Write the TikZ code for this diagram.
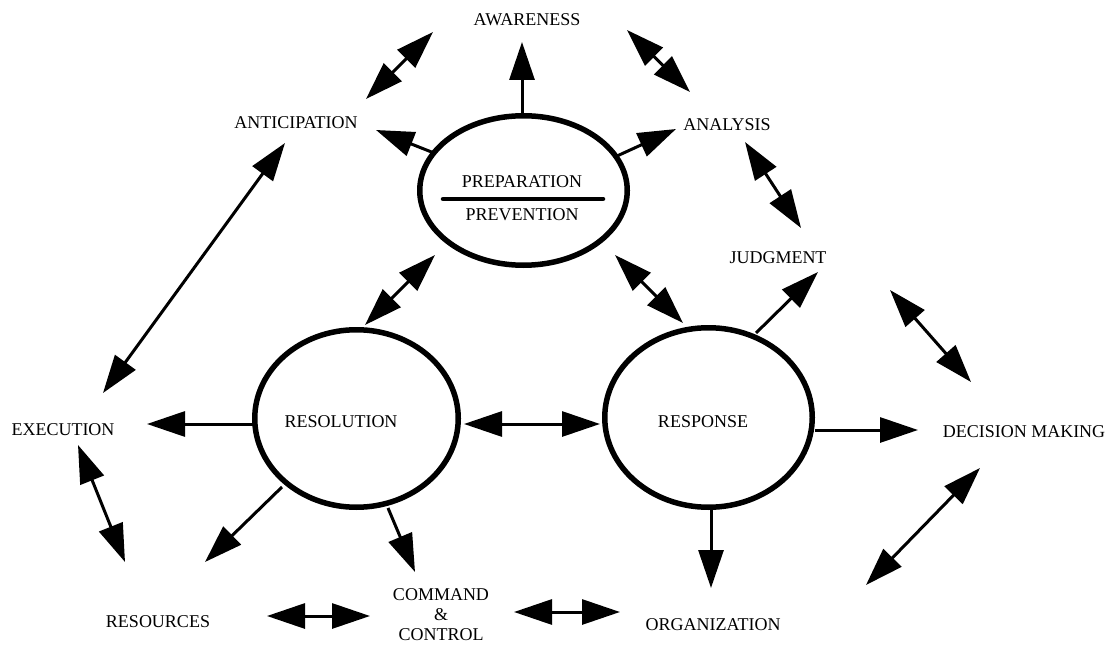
\documentclass[tikz,border=0pt]{standalone}
\usepackage{fontspec}
\setmainfont{Liberation Serif}
\usetikzlibrary{arrows.meta,shapes.geometric}
\begin{document}
\begin{tikzpicture}[x=1pt,y=-1pt,
  lbl/.style={font=\fontsize{18}{20}\selectfont, inner sep=1pt},
  bigcirc/.style={draw, ellipse, line width=5.5pt, inner sep=0pt},
  one/.style={line width=3pt, -{Triangle[length=38pt,width=25pt]}},
  two/.style={line width=3pt, {Triangle[length=38pt,width=25pt]}-{Triangle[length=38pt,width=25pt]}}]
\useasboundingbox (0,0) rectangle (1113,652);
% circles
\node[bigcirc, minimum width=207.5pt, minimum height=149.5pt] (prep) at (523.5,190.5) {};
\node[bigcirc, minimum width=203.5pt, minimum height=177.5pt] (reso) at (356.5,418.5) {};
\node[bigcirc, minimum width=207.5pt, minimum height=179.5pt] (resp) at (708.5,417.5) {};
\node[lbl] (prept) at (522,182) {PREPARATION};
\node[lbl] (prevt) at (522,215) {PREVENTION};
\coordinate (barL) at (443,199);
\coordinate (barR) at (603,199);
\draw[line width=4.5pt, line cap=round] (barL) -- (barR);
\node[lbl] (resot) at (341,422) {RESOLUTION};
\node[lbl] (respt) at (703,422) {RESPONSE};
% labels
\node[lbl] (aware) at (527,20) {AWARENESS};
\node[lbl] (antic) at (296,123) {ANTICIPATION};
\node[lbl] (analy) at (727,125) {ANALYSIS};
\node[lbl] (judg) at (778,258) {JUDGMENT};
\node[lbl] (exec) at (63,430) {EXECUTION};
\node[lbl] (dec) at (1024,432) {DECISION MAKING};
\node[lbl, align=center] (cc) at (441,615) {COMMAND\\\&\\CONTROL};
\node[lbl] (resour) at (158,622) {RESOURCES};
\node[lbl] (org) at (713,625) {ORGANIZATION};
% start / tip coordinates
\coordinate (sAware) at (522,113);
\coordinate (tAware) at (522,42);
\coordinate (sAntic) at (434,153);
\coordinate (tAntic) at (376,130);
\coordinate (sAnaly) at (617,156);
\coordinate (tAnaly) at (676,129);
\coordinate (aa1) at (366,99);
\coordinate (aa2) at (433,32);
\coordinate (an1) at (627,30);
\coordinate (an2) at (690,92);
\coordinate (aj1) at (745,142);
\coordinate (aj2) at (801,228);
\coordinate (pr1) at (435,255);
\coordinate (pr2) at (365,325);
\coordinate (pq1) at (615,255);
\coordinate (pq2) at (683,323);
\coordinate (sJudg) at (756,333);
\coordinate (tJudg) at (818,272);
\coordinate (jd1) at (890,290);
\coordinate (jd2) at (971,382);
\coordinate (ae1) at (285,143);
\coordinate (ae2) at (103,393);
\coordinate (sExec) at (253,424);
\coordinate (tExec) at (147,424);
\coordinate (er1) at (78,445);
\coordinate (er2) at (125,562);
\coordinate (sRes) at (282,487);
\coordinate (tRes) at (205,562);
\coordinate (sCC) at (388,508);
\coordinate (tCC) at (415,572);
\coordinate (rc1) at (267,616);
\coordinate (rc2) at (370,616);
\coordinate (rr1) at (464,424);
\coordinate (rr2) at (600,424);
\coordinate (co1) at (514,612);
\coordinate (co2) at (620,612);
\coordinate (sOrg) at (711,508);
\coordinate (tOrg) at (711,588);
\coordinate (sDec) at (815,430);
\coordinate (tDec) at (918,430);
\coordinate (od1) at (866,585);
\coordinate (od2) at (980,468);
% arrows from circles
\draw[one] (sAware) -- (tAware);
\draw[one] (sAntic) -- (tAntic);
\draw[one] (sAnaly) -- (tAnaly);
\draw[one] (sJudg) -- (tJudg);
\draw[one] (sExec) -- (tExec);
\draw[one] (sRes) -- (tRes);
\draw[one] (sCC) -- (tCC);
\draw[one] (sOrg) -- (tOrg);
\draw[one] (sDec) -- (tDec);
% double arrows
\draw[two] (aa1) -- (aa2);
\draw[two] (an1) -- (an2);
\draw[two] (aj1) -- (aj2);
\draw[two] (pr1) -- (pr2);
\draw[two] (pq1) -- (pq2);
\draw[two] (jd1) -- (jd2);
\draw[two] (ae1) -- (ae2);
\draw[two] (er1) -- (er2);
\draw[two] (rc1) -- (rc2);
\draw[two] (rr1) -- (rr2);
\draw[two] (co1) -- (co2);
\draw[two] (od1) -- (od2);
\end{tikzpicture}
\end{document}
